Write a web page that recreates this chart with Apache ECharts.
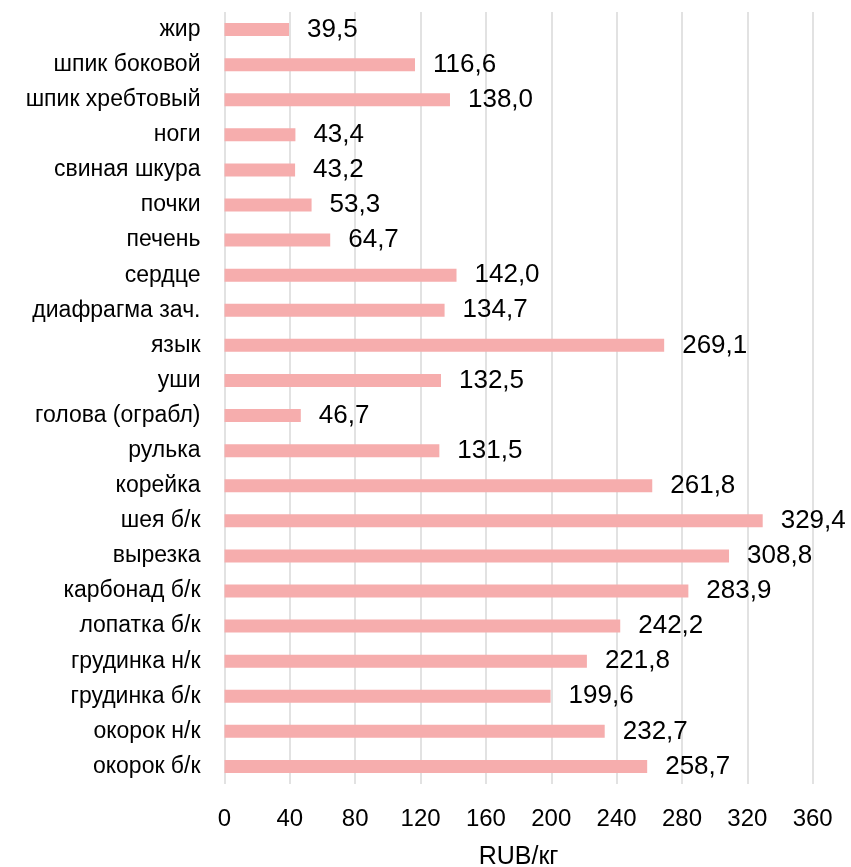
<!DOCTYPE html>
<html><head><meta charset="utf-8">
<script src="https://cdn.jsdelivr.net/npm/echarts@6/dist/echarts.min.js"></script>
<style>html,body{margin:0;padding:0;background:#fff}#c{width:851px;height:867px}</style>
</head><body><div id="c"></div>
<script>
const categories = ['жир','шпик боковой','шпик хребтовый','ноги','свиная шкура','почки','печень','сердце','диафрагма зач.','язык','уши','голова (ограбл)','рулька','корейка','шея б/к','вырезка','карбонад б/к','лопатка б/к','грудинка н/к','грудинка б/к','окорок н/к','окорок б/к'];
const values = [39.5,116.6,138.0,43.4,43.2,53.3,64.7,142.0,134.7,269.1,132.5,46.7,131.5,261.8,329.4,308.8,283.9,242.2,221.8,199.6,232.7,258.7];
const xTicks = {min:0, max:360, interval:40};
const axisName = 'RUB/кг';
const font = 'Liberation Sans';
const chart = echarts.init(document.getElementById('c'));
chart.setOption({
  animation:false,
  grid:{left:224.5, right:38.3, top:12, bottom:83, containLabel:false, outerBoundsMode:'none'},
  xAxis:{type:'value', min:xTicks.min, max:xTicks.max, interval:xTicks.interval,
    name:axisName, nameLocation:'middle', nameGap:61,
    nameTextStyle:{fontFamily:font, fontSize:25, color:'#000'},
    axisLine:{show:false}, axisTick:{show:false},
    axisLabel:{fontFamily:font, fontSize:24, color:'#000', margin:23},
    splitLine:{lineStyle:{color:'#d9d9d9', width:1.5}}},
  yAxis:{type:'category', data:categories, inverse:true,
    axisLine:{show:false}, axisTick:{show:false},
    axisLabel:{fontFamily:font, fontSize:23, color:'#000', margin:24}},
  series:[{type:'bar', data:values, barWidth:13, itemStyle:{color:'#F6ADAD'},
    label:{show:true, position:'right', distance:18, fontFamily:font, fontSize:26, color:'#000',
      formatter:p=>p.value.toFixed(1).replace('.',',')}}]
});
</script></body></html>
